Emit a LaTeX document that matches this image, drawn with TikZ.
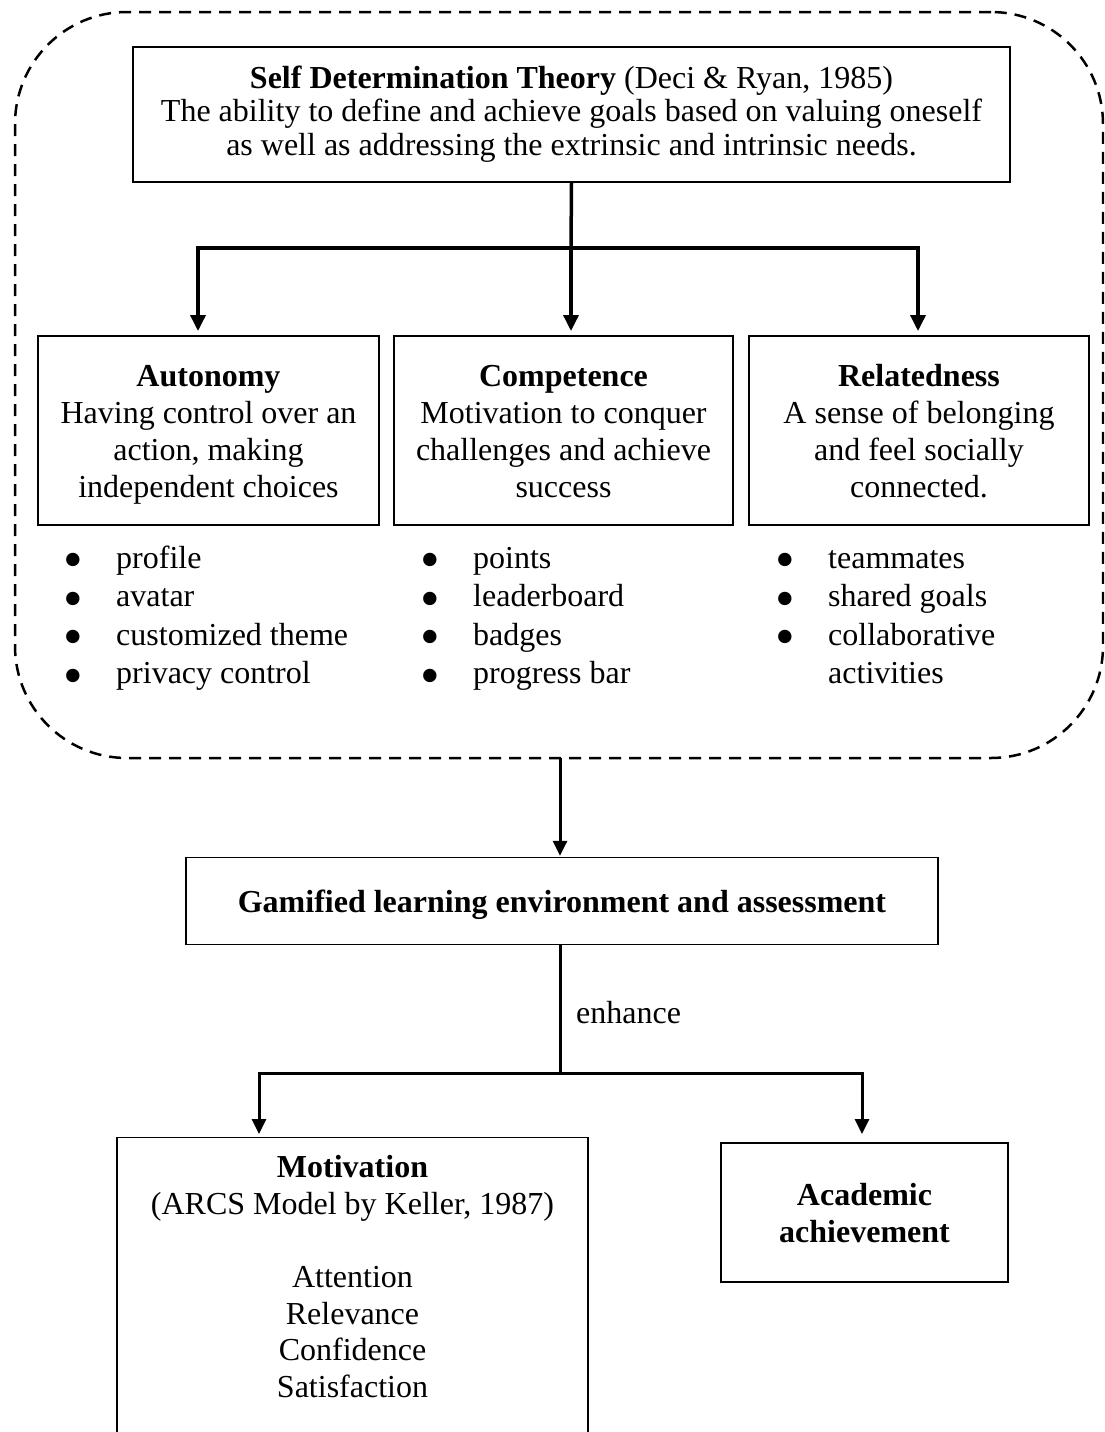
\documentclass[tikz,border=0pt]{standalone}
\usepackage{fontspec}
\setmainfont{Liberation Serif}
\usetikzlibrary{arrows.meta}
\newcommand{\hstr}{\rule{0pt}{30pt}}
\newcommand{\dstr}{\rule[-7pt]{0pt}{7pt}}
\newcommand{\bul}{\makebox[12pt][c]{\smash{\raisebox{-10.5pt}{\scalebox{1.75}{•}}}}}
\begin{document}
\begin{tikzpicture}[x=1pt,y=-1pt,
  box/.style={draw, line width=1.3pt, inner sep=0pt, align=center, font=\fontsize{32}{36.7}\selectfont},
  bigarrow/.style={line width=3.5pt, -{Triangle[width=15pt,length=16pt]}, shorten >=5pt},
  bigline/.style={line width=3.5pt},
  smallarrow/.style={line width=3pt, -{Triangle[width=14pt,length=15pt]}, shorten >=2pt},
  smallline/.style={line width=3pt},
  frame/.style={draw, dashed, dash pattern=on 12pt off 8pt, line width=2.5pt, rounded corners=112pt, inner sep=0pt},
  bullets/.style={anchor=base west, inner sep=0pt, font=\fontsize{32}{38.5}\selectfont},
  plain/.style={inner sep=0pt, font=\fontsize{32}{36.7}\selectfont}]
\useasboundingbox (0,0) rectangle (1104,1432);
\clip (0,0) rectangle (1104,1432);

% dashed frame
\node[frame, minimum width=1088, minimum height=746] (sdtframe) at (559,385) {};

% SDT box
\node[box, minimum width=877, minimum height=135, font=\fontsize{32}{33.5}\selectfont] (sdt) at (571.5,114.5)
  {\rule{0pt}{26pt}\textbf{Self Determination Theory} (Deci \& Ryan, 1985)\\The ability to define and achieve goals based on valuing oneself\\as well as addressing the extrinsic and intrinsic needs.\rule[-12pt]{0pt}{12pt}};

% three needs
\node[box, minimum width=341, minimum height=189] (auto) at (208.5,430.5)
  {\hstr\textbf{Autonomy}\\Having control over an\\action, making\\independent choices\dstr};
\node[box, minimum width=339, minimum height=189] (comp) at (563.5,430.5)
  {\hstr\textbf{Competence}\\Motivation to conquer\\challenges and achieve\\success\dstr};
\node[box, minimum width=340, minimum height=189] (relat) at (919,430.5)
  {\hstr\textbf{Relatedness}\\A sense of belonging\\and feel socially\\connected.\dstr};

% arrows from SDT
\coordinate (jC) at (571,248);
\coordinate (tA) at (198,336);
\coordinate (tC) at (571,336);
\coordinate (tR) at (918,336);
\draw[bigline] (sdt.south) -- (jC);
\draw[bigarrow] (jC) -| (tA);
\draw[bigarrow] (jC) -- (tC);
\draw[bigarrow] (jC) -| (tR);

% bullet lists
\node[bullets] (listA) at (67,568) {\begin{tabular}[t]{@{}l@{\hspace{37pt}}l@{}}\bul&profile\\\bul&avatar\\\bul&customized theme\\\bul&privacy control\end{tabular}};
\node[bullets] (listC) at (424,568) {\begin{tabular}[t]{@{}l@{\hspace{37pt}}l@{}}\bul&points\\\bul&leaderboard\\\bul&badges\\\bul&progress bar\end{tabular}};
\node[bullets] (listR) at (779,568) {\begin{tabular}[t]{@{}l@{\hspace{37pt}}l@{}}\bul&teammates\\\bul&shared goals\\\bul&collaborative\\&activities\end{tabular}};

% gamified
\node[box, minimum width=752, minimum height=87] (game) at (562,901)
  {\hstr\textbf{Gamified learning environment and assessment}\dstr};
\coordinate (fA) at (560,758);
\draw[smallarrow, shorten >=1pt] (fA) -- (fA |- game.north);

\coordinate (j2) at (560,1073);
\draw[smallline] (j2 |- game.south) -- (j2);
\node[plain, anchor=base west] (enh) at (576,1023) {enhance};

% outcomes
\node[box, minimum width=471, minimum height=400, anchor=north] (motiv) at (352.5,1137) {};
\node[plain, align=center, anchor=north] (motivtext) at (352.5,1155)
  {\textbf{Motivation}\\(ARCS Model by Keller, 1987)\\[36.7pt]Attention\\Relevance\\Confidence\\Satisfaction};
\node[box, minimum width=287, minimum height=139] (acad) at (864.5,1212.5)
  {\hstr\textbf{Academic}\\\textbf{achievement}\dstr};

\coordinate (tM) at (259,1137);
\coordinate (tAc) at (862,1143);
\draw[smallarrow, shorten >=3pt] (j2) -| (tM);
\draw[smallarrow, shorten >=9pt] (j2) -| (tAc);
\end{tikzpicture}
\end{document}
